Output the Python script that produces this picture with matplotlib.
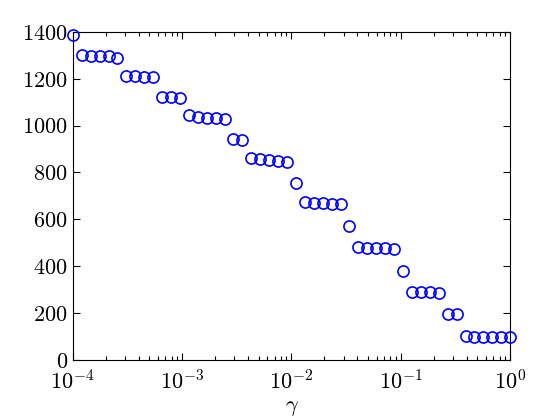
import numpy as np
import matplotlib
matplotlib.use("Agg")
import matplotlib.pyplot as plt
from matplotlib.ticker import LogLocator, NullFormatter

plt.rcParams['font.family'] = 'cmr10'
plt.rcParams['mathtext.fontset'] = 'cm'
plt.rcParams['axes.formatter.use_mathtext'] = True

# gamma sampled on a log grid, 50 points from 1e-4 to 1
gamma = np.logspace(-4, 0, 50)

# values
counts = [1385,
          1302, 1298, 1298, 1296, 1290,
          1212, 1210, 1208, 1206,
          1124, 1121, 1118,
          1046, 1036, 1034, 1032, 1028,
          944, 940,
          860, 858, 855, 851, 846,
          757,
          673, 671, 669, 665, 664,
          570,
          481, 479, 478, 476, 473,
          379,
          292, 289, 288, 285,
          195, 194,
          101, 99, 98, 98, 97, 97]

fig = plt.figure(figsize=(5.6, 4.2), dpi=100)
ax = fig.add_axes([0.13, 0.143, 0.781, 0.781])

ax.semilogx(gamma, counts, 'o', color='#0000ff', markerfacecolor='none',
            markersize=8, markeredgewidth=1.2, clip_on=False, zorder=3)

ax.set_xlim(1e-4, 1)
ax.set_ylim(0, 1400)
ax.set_yticks(range(0, 1401, 200))
ax.xaxis.set_minor_locator(LogLocator(base=10, subs=np.arange(2, 10)))
ax.xaxis.set_minor_formatter(NullFormatter())

ax.tick_params(which='both', direction='in', top=True, right=True,
               labelsize=16, width=0.8)
ax.tick_params(which='major', length=5)
ax.tick_params(which='minor', length=3)
ax.tick_params(axis='x', pad=7)
for s in ax.spines.values():
    s.set_linewidth(0.8)

ax.set_xlabel(r'$\gamma$', fontsize=16, labelpad=3)

fig.savefig('out.png', dpi=100)
